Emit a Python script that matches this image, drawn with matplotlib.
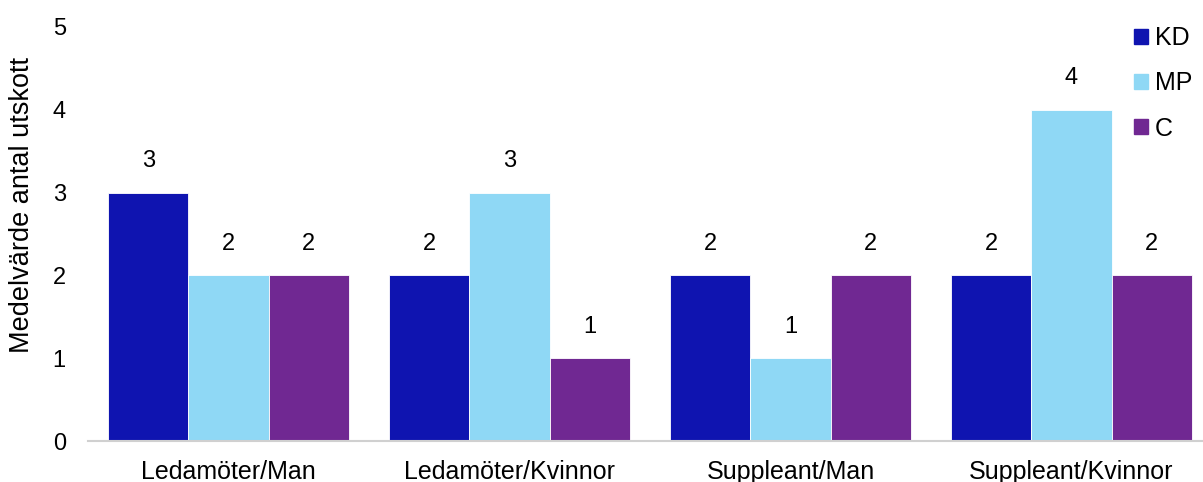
import matplotlib.pyplot as plt
import numpy as np
from matplotlib.patches import Patch

kategorier = ['Ledamöter/Man', 'Ledamöter/Kvinnor', 'Suppleant/Man', 'Suppleant/Kvinnor']
partier = ['KD', 'MP', 'C']
kd = [3, 2, 2, 2]
mp = [2, 3, 1, 4]
c = [2, 1, 2, 2]
farger = ['#0F14B0', '#8FD8F5', '#702892']

plt.rcParams['font.family'] = ['Liberation Sans', 'DejaVu Sans']

fig = plt.figure(figsize=(12.03, 4.82), dpi=100)
ax = fig.add_axes([88 / 1203, 41 / 482, 1124 / 1203, 414 / 482])

x = np.arange(len(kategorier))
bredd = 0.285
for i, (namn, varden) in enumerate(zip(partier, [kd, mp, c])):
    pos = x + (i - 1) * bredd
    ax.bar(pos, varden, width=bredd, color=farger[i], edgecolor='white', linewidth=0.6)
    for px, v in zip(pos, varden):
        ax.text(px, v + 0.38, str(v), ha='center', va='center', fontsize=17)

ax.set_xlim(-0.5, len(kategorier) - 0.5)
ax.set_ylim(0, 5)
ax.set_xticks(x)
ax.set_xticklabels(kategorier, fontsize=18)
ax.set_yticks(range(6))
ax.tick_params(axis='y', labelsize=17, length=0, pad=16)
ax.tick_params(axis='x', length=0, pad=14)
ax.set_ylabel('Medelvärde antal utskott', fontsize=19.5)
ax.yaxis.set_label_coords(-0.047, 0.57)

for s in ['top', 'right', 'left']:
    ax.spines[s].set_visible(False)
ax.spines['bottom'].set_color('#D0D0D0')
ax.spines['bottom'].set_linewidth(1.5)

handles = [Patch(color=f, label=p) for f, p in zip(farger, partier)]
fig.legend(handles=handles, loc='upper left', bbox_to_anchor=(1124 / 1203, 1 - 16 / 482),
           frameon=False, fontsize=18, handlelength=0.55, handleheight=0.55,
           handletextpad=0.3, labelspacing=0.85, borderaxespad=0)

fig.savefig('out.png', dpi=100)
